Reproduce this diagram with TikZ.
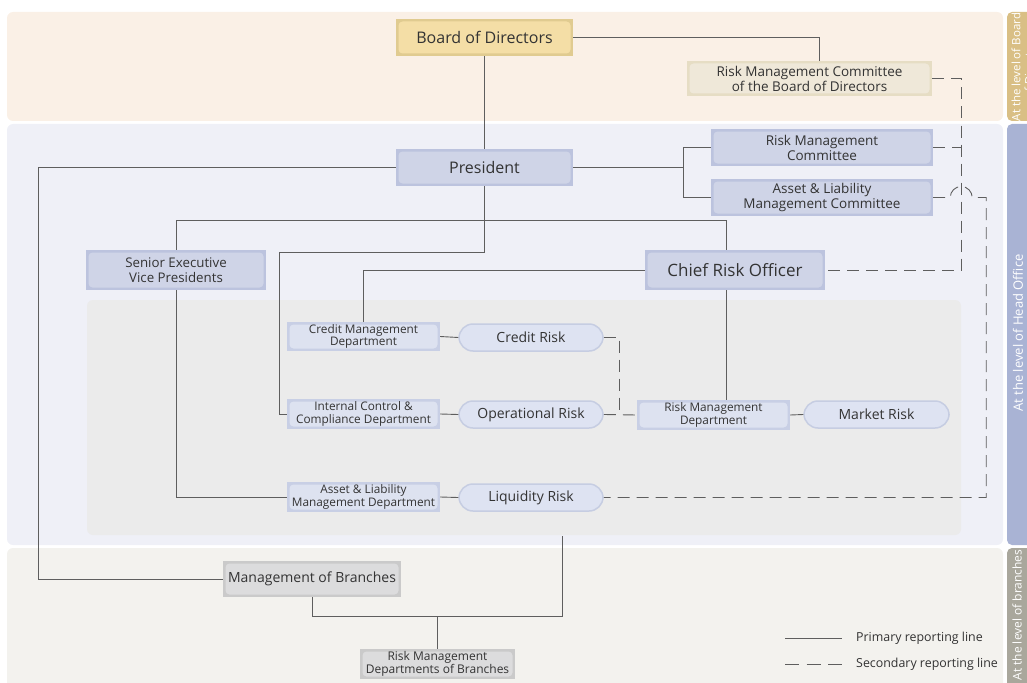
\documentclass[tikz,border=0pt]{standalone}
\usepackage{fontspec}
\setmainfont{Open Sans}
\usetikzlibrary{calc}
\definecolor{bgboard}{HTML}{FAF0E6}
\definecolor{bghead}{HTML}{EFF0F7}
\definecolor{bginner}{HTML}{EBEBEB}
\definecolor{bgbranch}{HTML}{F3F2EE}
\definecolor{tabboard}{HTML}{D9BF85}
\definecolor{tabhead}{HTML}{A9B3D4}
\definecolor{tabbranch}{HTML}{A9A79C}
\definecolor{boardframe}{HTML}{E0CB90}
\definecolor{boardin}{HTML}{F4DEA6}
\definecolor{creamframe}{HTML}{E6DDC4}
\definecolor{creamin}{HTML}{EFE8D9}
\definecolor{bframe}{HTML}{BCC3DE}
\definecolor{bin}{HTML}{CFD4E7}
\definecolor{dframe}{HTML}{C8CFE5}
\definecolor{din}{HTML}{DDE2F0}
\definecolor{gframe}{HTML}{CACACA}
\definecolor{gin}{HTML}{DCDCDD}
\definecolor{pillfill}{HTML}{DEE3F2}
\definecolor{pillline}{HTML}{C6CDE2}
\definecolor{txt}{HTML}{333333}
\definecolor{lineg}{HTML}{5E5E5E}
\tikzset{
  boxf/.style={rectangle, inner sep=2pt, align=center, text=txt, fill=#1},
  inset/.style={path picture={\fill[#1, rounded corners=4pt]
     ($(path picture bounding box.north west)+(2.5pt,-2.5pt)$) rectangle
     ($(path picture bounding box.south east)+(-2.5pt,2.5pt)$);}},
  goldbox/.style={boxf=boardframe, inset=boardin},
  creambox/.style={boxf=creamframe, inset=creamin},
  bluebox/.style={boxf=bframe, inset=bin},
  deptbox/.style={boxf=dframe, inset=din, font=\fontsize{11.8}{12.6}\selectfont},
  graybox/.style={boxf=gframe, inset=gin},
  pill/.style={rectangle, rounded corners=14pt, fill=pillfill, draw=pillline,
     line width=1.5pt, text=txt, font=\fontsize{14}{16}\selectfont,
     minimum width=144pt, minimum height=27pt},
  prim/.style={draw=lineg, line width=0.9pt},
  sec/.style={draw=lineg, line width=0.9pt, dash pattern=on 12pt off 7pt},
  tabtext/.style={rotate=90, text=white, align=center},
}
\begin{document}
\begin{tikzpicture}[x=1pt,y=-1pt]
\useasboundingbox (0,0) rectangle (1027,682);
% bands
\fill[bgboard, rounded corners=6pt] (7,12) rectangle (1003,121);
\fill[bghead, rounded corners=6pt] (7,124) rectangle (1003,545);
\fill[bginner, rounded corners=6pt] (87,300) rectangle (961,535);
\fill[bgbranch, rounded corners=6pt] (7,548) rectangle (1003,700);
% tabs
\fill[tabboard, rounded corners=5pt] (1007,12) rectangle (1040,121);
\fill[tabhead, rounded corners=5pt] (1007,124) rectangle (1040,545);
\fill[tabbranch, rounded corners=5pt] (1007,548) rectangle (1040,700);
\begin{scope}
\clip (1007,12) rectangle (1027,121);
\node[tabtext, font=\fontsize{11.5}{13}\selectfont] (tb) at (1022.5,67) {At the level of Board\\of Directors};
\end{scope}
\node[tabtext, font=\fontsize{13}{15}\selectfont] (th) at (1018,333) {At the level of Head Office};
\node[tabtext, font=\fontsize{12}{14}\selectfont] (tr) at (1017,615) {At the level of branches};

% nodes
\node[goldbox, minimum width=177pt, minimum height=37pt, font=\fontsize{16}{18}\selectfont] (board) at (484.5,37.5) {Board of Directors};
\node[creambox, minimum width=245pt, minimum height=35pt, font=\fontsize{13.5}{15}\selectfont] (rmcb) at (809.5,78.5) {Risk Management Committee\\of the Board of Directors};
\node[bluebox, minimum width=177pt, minimum height=37pt, font=\fontsize{16}{18}\selectfont] (president) at (484.5,167.5) {President};
\node[bluebox, minimum width=222pt, minimum height=37pt, font=\fontsize{13.5}{15}\selectfont] (rmc) at (822,147.5) {Risk Management\\Committee};
\node[bluebox, minimum width=222pt, minimum height=37pt, font=\fontsize{13.5}{15}\selectfont] (almc) at (822,197.5) {Asset \& Liability\\Management Committee};
\node[bluebox, minimum width=180pt, minimum height=40pt, font=\fontsize{13.3}{15}\selectfont] (sevp) at (176,270) {Senior Executive\\Vice Presidents};
\node[bluebox, minimum width=180pt, minimum height=40pt, font=\fontsize{17}{19}\selectfont] (cro) at (735,270) {Chief Risk Officer};
\node[deptbox, minimum width=153pt, minimum height=29pt] (cdm) at (363.5,336.5) {Credit Management\\Department};
\node[deptbox, minimum width=153pt, minimum height=30pt] (icc) at (363.5,414) {Internal Control \&\\Compliance Department};
\node[deptbox, minimum width=153pt, minimum height=30pt] (almd) at (363.5,497) {Asset \& Liability\\Management Department};
\node[deptbox, minimum width=153pt, minimum height=30pt] (rmd) at (713.5,415) {Risk Management\\Department};
\node[pill] (credit) at (531,337.5) {Credit Risk};
\node[pill] (oprisk) at (531,414.5) {Operational Risk};
\node[pill] (liq) at (531,497.5) {Liquidity Risk};
\node[pill, minimum width=145pt] (market) at (876.5,414.5) {Market Risk};
\node[graybox, minimum width=178pt, minimum height=36pt, font=\fontsize{14}{16}\selectfont] (mob) at (312,579) {Management of Branches};
\node[graybox, minimum width=155pt, minimum height=30pt, font=\fontsize{12}{13}\selectfont] (rmdb) at (437.5,664) {Risk Management\\Departments of Branches};

% primary connectors
\draw[prim] (board.east) -| ([xshift=9.5pt]rmcb.north);
\draw[prim] (board.south) -- (president.north);
\coordinate (cj) at (683,167.5);
\draw[prim] (president.east) -- (cj);
\draw[prim] (rmc.west) -| (cj) |- (almc.west);
\draw[prim] (president.west) -- ++(-357,0) |- (mob.west);
\draw[prim] (president.south) |- (279,252) |- (icc.west);
\draw[prim] (sevp.north) -- ++(0,-29) -| ([xshift=-9pt]cro.north);
\draw[prim] (cro.west) -| (cdm.north);
\draw[prim] ([xshift=-9pt]cro.south) -- ([xshift=-9pt]cro.south |- rmd.north);
\draw[prim] (sevp.south) |- (almd.west);
\draw[prim] (cdm.east) -- (credit.west);
\draw[prim] (icc.east) -- (oprisk.west);
\draw[prim] (almd.east) -- (liq.west);
\draw[prim] (rmd.east) -- (market.west);
\coordinate (hoj) at (562,536);
\coordinate (bj) at (562,616);
\draw[prim] (mob.south) |- (bj) -- (hoj);
\draw[prim] (rmdb.north) -- (rmdb.north |- bj);

% secondary connectors
\draw[sec] (rmcb.east) -- ++(29,0) |- (cro.east);
\draw[sec] (rmc.east) -- ++(28,0);
\draw[sec] (almc.east) -- ++(17,0) arc[start angle=180, end angle=360, radius=11] -- ++(14,0) |- (liq.east);
\draw[sec] (credit.east) -| ([xshift=16pt]oprisk.east);
\draw[sec] (oprisk.east) -- (rmd.west);

% legend
\coordinate (l1a) at (785,638); \coordinate (l1b) at (842,638);
\coordinate (l2a) at (785,664); \coordinate (l2b) at (842,664);
\draw[prim] (l1a) -- (l1b);
\draw[sec, dash pattern=on 14pt off 7.5pt] (l2a) -- (l2b);
\node[anchor=west, text=txt, font=\fontsize{12.4}{14}\selectfont, inner sep=0pt] (lt1) at (856,638) {Primary reporting line};
\node[anchor=west, text=txt, font=\fontsize{12.4}{14}\selectfont, inner sep=0pt] (lt2) at (856,664) {Secondary reporting line};
\end{tikzpicture}
\end{document}
